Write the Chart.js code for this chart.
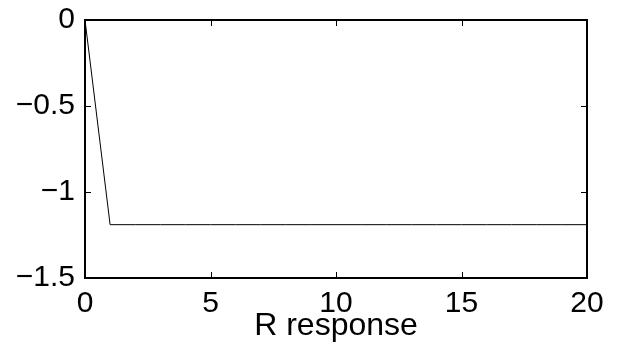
<!DOCTYPE html>
<html>
<head>
<meta charset="utf-8">
<script src="https://cdn.jsdelivr.net/npm/chart.js@4/dist/chart.umd.min.js"></script>
<style>
  html, body { margin: 0; padding: 0; background: #fff; }
  #wrap { width: 619px; height: 349px; }
</style>
</head>
<body>
<div id="wrap"><canvas id="resp" width="619" height="349"></canvas></div>
<script>
// sample index and response value
const steps = [0, 1, 2, 3, 4, 5, 6, 7, 8, 9, 10, 11, 12, 13, 14, 15, 16, 17, 18, 19, 20];
const response = [0, -1.19, -1.19, -1.19, -1.19, -1.19, -1.19, -1.19, -1.19, -1.19, -1.19,
  -1.19, -1.19, -1.19, -1.19, -1.19, -1.19, -1.19, -1.19, -1.19, -1.19];
const xTicks = [0, 5, 10, 15, 20];
const yTicks = [0, -0.5, -1, -1.5];
const xLabel = 'R response';

const FONT = 'Liberation Sans, Arial, Helvetica, sans-serif';

// box around the axes + inward tick marks on all four sides
const boxPlugin = {
  id: 'box',
  afterDraw(chart) {
    const { ctx, chartArea: a, scales } = chart;
    const len = 6;
    ctx.save();
    ctx.strokeStyle = '#000';
    ctx.lineWidth = 1;
    ctx.beginPath();
    xTicks.forEach(v => {
      const x = Math.round(scales.x.getPixelForValue(v)) + 0.5;
      ctx.moveTo(x, a.bottom); ctx.lineTo(x, a.bottom - len);
      ctx.moveTo(x, a.top); ctx.lineTo(x, a.top + len);
    });
    yTicks.forEach(v => {
      const y = Math.round(scales.y.getPixelForValue(v)) + 0.5;
      ctx.moveTo(a.left, y); ctx.lineTo(a.left + len, y);
      ctx.moveTo(a.right, y); ctx.lineTo(a.right - len, y);
    });
    ctx.stroke();
    ctx.lineWidth = 2;
    ctx.strokeRect(a.left, a.top, a.right - a.left, a.bottom - a.top);
    ctx.restore();
  }
};

new Chart(document.getElementById('resp').getContext('2d'), {
  type: 'line',
  data: {
    datasets: [{
      data: steps.map((s, i) => ({ x: s, y: response[i] })),
      borderColor: '#000',
      borderWidth: 1,
      pointRadius: 0,
      tension: 0,
      fill: false
    }]
  },
  options: {
    responsive: false,
    animation: false,
    layout: { padding: { top: 20, right: 32, left: 0, bottom: 0 } },
    plugins: { legend: { display: false }, tooltip: { enabled: false } },
    scales: {
      x: {
        type: 'linear',
        min: 0, max: 20,
        afterBuildTicks: s => { s.ticks = xTicks.map(v => ({ value: v })); },
        afterFit: s => { s.height = 71; s.paddingLeft = 0; s.paddingRight = 0; },
        grid: { display: false, drawTicks: false },
        border: { display: false },
        ticks: { color: '#000', font: { family: FONT, size: 30 }, padding: 8, maxRotation: 0 },
        title: { display: true, text: xLabel, color: '#000', font: { family: FONT, size: 32 }, padding: { top: 0, bottom: 4 } }
      },
      y: {
        min: -1.5, max: 0,
        afterBuildTicks: s => { s.ticks = yTicks.map(v => ({ value: v })); },
        afterFit: s => { s.width = 85; s.paddingTop = 0; s.paddingBottom = 0; },
        grid: { display: false, drawTicks: false },
        border: { display: false },
        ticks: {
          color: '#000', font: { family: FONT, size: 30 }, padding: 10,
          callback: v => String(v).replace('-', '\u2212')
        }
      }
    }
  },
  plugins: [boxPlugin]
});
</script>
</body>
</html>
